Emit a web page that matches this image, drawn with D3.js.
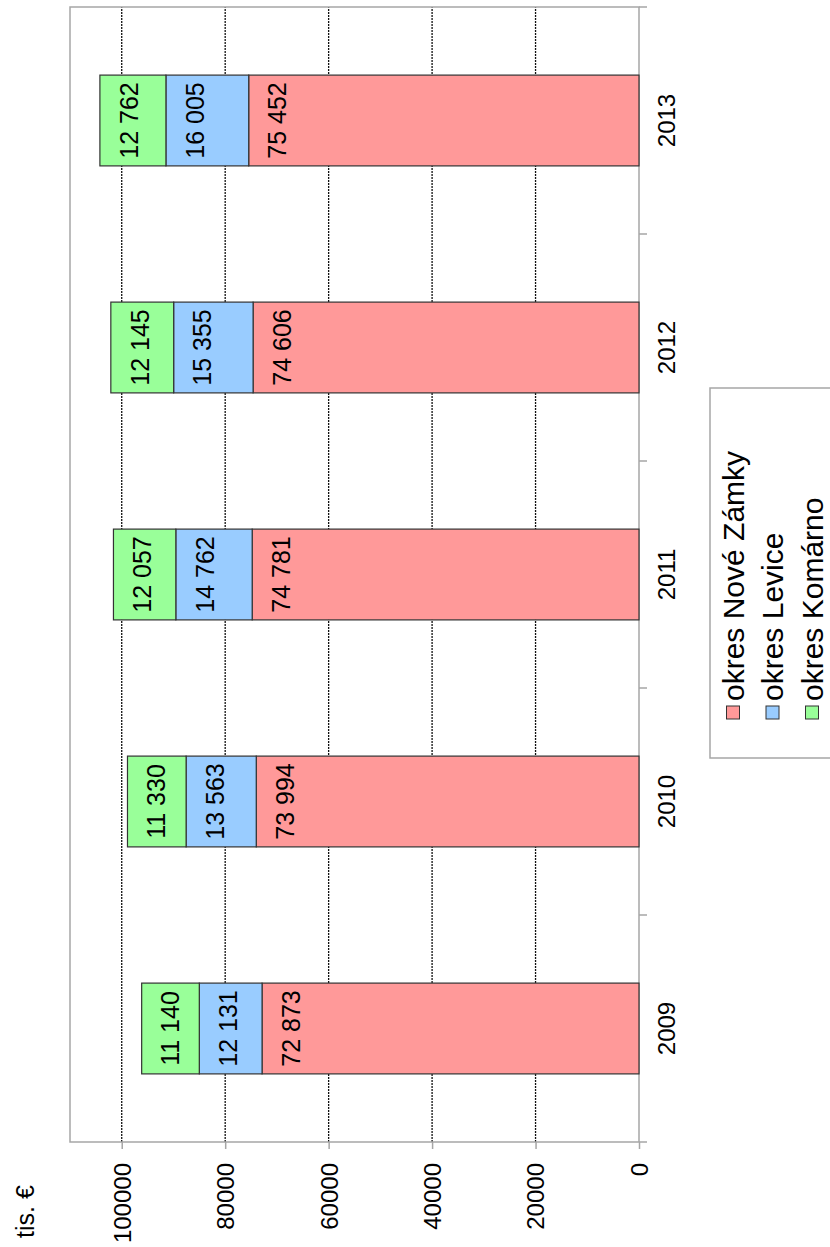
<!DOCTYPE html>
<html>
<head>
<meta charset="utf-8">
<script src="https://cdn.jsdelivr.net/npm/d3@7"></script>
<style>
  html, body { margin: 0; padding: 0; background: #fff; }
  svg text { font-family: "Liberation Sans", Arial, sans-serif; fill: #000; }
</style>
</head>
<body>
<svg id="chart" width="830" height="1247"></svg>
<script>
const years = ["2009", "2010", "2011", "2012", "2013"];
const noveZamky = [72873, 73994, 74781, 74606, 75452];
const levice = [12131, 13563, 14762, 15355, 16005];
const komarno = [11140, 11330, 12057, 12145, 12762];
const seriesKeys = ["okres Nové Zámky", "okres Levice", "okres Komárno"];
const seriesColors = ["#ff9999", "#99ccff", "#99ff99"];
const valueTicks = [0, 20000, 40000, 60000, 80000, 100000];
const unitLabel = "tis. €";

// the whole chart is drawn upright and then turned a quarter left
const W = 1247, H = 830;
const svg = d3.select("#chart");
const g = svg.append("g")
  .attr("transform", "translate(0," + W + ") rotate(-90)");

const plot = { left: 105, right: 1240, top: 70, bottom: 639 };

const rows = years.map(function(yr, i) {
  return { year: yr, "okres Nové Zámky": noveZamky[i], "okres Levice": levice[i], "okres Komárno": komarno[i] };
});
const stacked = d3.stack().keys(seriesKeys)(rows);

const x = d3.scaleBand()
  .domain(years)
  .range([plot.left, plot.right])
  .paddingInner(0.6)
  .paddingOuter(0.3);

const y = d3.scaleLinear()
  .domain([0, 110000])
  .range([plot.bottom, plot.top]);

const fmt = function(v) { return d3.format(",")(v).replace(/,/g, " "); };

// gridlines
g.append("g")
  .selectAll("line")
  .data(valueTicks.filter(function(d) { return d > 0; }))
  .enter().append("line")
    .attr("x1", plot.left).attr("x2", plot.right)
    .attr("y1", function(d) { return y(d); })
    .attr("y2", function(d) { return y(d); })
    .attr("stroke", "#111")
    .attr("stroke-width", 1.3)
    .attr("stroke-dasharray", "2,1");

// frame
g.append("rect")
  .attr("x", plot.left).attr("y", plot.top)
  .attr("width", plot.right - plot.left)
  .attr("height", plot.bottom - plot.top)
  .attr("fill", "none")
  .attr("stroke", "#a6a6a6")
  .attr("stroke-width", 1.5);

// value axis
const yAxis = g.append("g")
  .attr("transform", "translate(" + plot.left + ",0)")
  .call(d3.axisLeft(y).tickValues(valueTicks).tickSize(7).tickPadding(14).tickFormat(d3.format("d")));
yAxis.select(".domain").remove();
yAxis.selectAll(".tick line").attr("stroke", "#a6a6a6").attr("stroke-width", 1.5);
yAxis.selectAll(".tick text").style("font-size", "24px").attr("dy", "0.35em");

// category axis
const xAxis = g.append("g")
  .attr("transform", "translate(0," + plot.bottom + ")")
  .call(d3.axisBottom(x).tickSize(0).tickPadding(19));
xAxis.select(".domain").remove();
xAxis.selectAll(".tick text").style("font-size", "24px");

const bounds = d3.range(years.length + 1).map(function(i) {
  return plot.left + i * (plot.right - plot.left) / years.length;
});
g.append("g")
  .selectAll("line")
  .data(bounds)
  .enter().append("line")
    .attr("x1", function(d) { return d; })
    .attr("x2", function(d) { return d; })
    .attr("y1", plot.bottom)
    .attr("y2", plot.bottom + 8)
    .attr("stroke", "#a6a6a6")
    .attr("stroke-width", 1.5);

// bars
const layer = g.append("g")
  .selectAll("g")
  .data(stacked)
  .enter().append("g")
    .attr("fill", function(d, i) { return seriesColors[i]; });

layer.selectAll("rect")
  .data(function(d) { return d; })
  .enter().append("rect")
    .attr("x", function(d) { return x(d.data.year); })
    .attr("y", function(d) { return y(d[1]); })
    .attr("width", x.bandwidth())
    .attr("height", function(d) { return y(d[0]) - y(d[1]); })
    .attr("stroke", "#333")
    .attr("stroke-width", 1.2);

layer.selectAll("text")
  .data(function(d) { return d; })
  .enter().append("text")
    .attr("x", function(d) { return x(d.data.year) + x.bandwidth() / 2; })
    .attr("y", function(d) { return y(d[1]) + 29; })
    .attr("dy", "0.35em")
    .attr("text-anchor", "middle")
    .style("font-size", "25px")
    .text(function(d) { return fmt(d[1] - d[0]); });

// unit label
g.append("text")
  .attr("x", 9)
  .attr("y", 34)
  .style("font-size", "25px")
  .text(unitLabel);

// legend
const legend = g.append("g");
legend.append("rect")
  .attr("x", 489).attr("y", 710)
  .attr("width", 370).attr("height", 150)
  .attr("fill", "#fff")
  .attr("stroke", "#a6a6a6")
  .attr("stroke-width", 1.5);

const item = legend.selectAll("g.item")
  .data(seriesKeys)
  .enter().append("g")
    .attr("class", "item")
    .attr("transform", function(d, i) { return "translate(528," + (733 + i * 39.5) + ")"; });

item.append("rect")
  .attr("x", 0).attr("y", -6.5)
  .attr("width", 13).attr("height", 13)
  .attr("fill", function(d, i) { return seriesColors[i]; })
  .attr("stroke", "#333")
  .attr("stroke-width", 1);

item.append("text")
  .attr("x", 18)
  .attr("dy", "0.35em")
  .style("font-size", "30px")
  .text(function(d) { return d; });
</script>
</body>
</html>
